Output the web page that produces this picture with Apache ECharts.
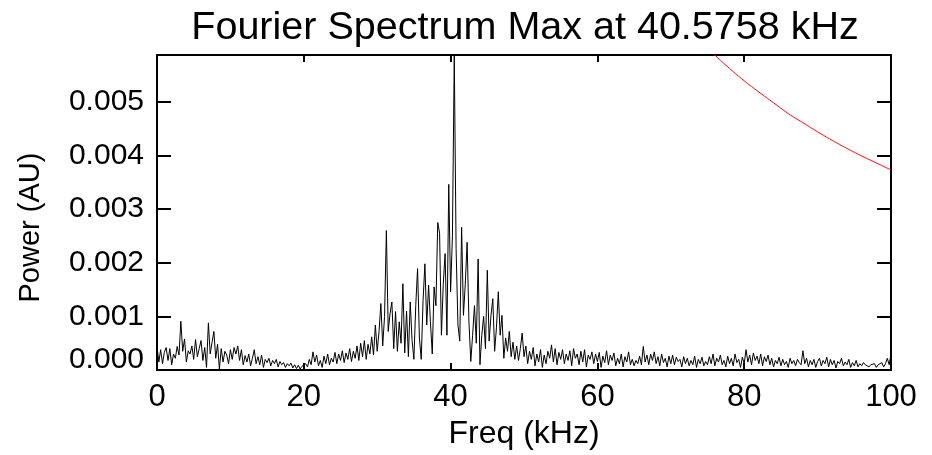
<!DOCTYPE html>
<html><head><meta charset="utf-8">
<script src="https://cdn.jsdelivr.net/npm/echarts@6/dist/echarts.min.js"></script>
<style>html,body{margin:0;padding:0;background:#fff}#c{width:932px;height:455px}</style>
</head><body><div id="c"></div><script>
// Frequency grid step (kHz) of the spectrum samples, 0..100 kHz
const freqStepKHz = 0.25;
// Power in units of 0.001 AU
const power0to25 = [0.45,0.15,0.38,0.12,0.33,0.42,0.18,0.40,0.10,0.30,0.22,0.44,0.28,0.91,0.35,0.58,0.15,0.36,0.30,0.45,0.20,
  0.57,0.25,0.40,0.55,0.18,0.42,0.05,0.88,0.30,0.52,0.72,0.22,0.48,0.02,0.40,0.15,0.35,0.28,0.12,0.38,
  0.20,0.42,0.30,0.45,0.18,0.38,0.10,0.27,0.15,0.30,0.08,0.22,0.38,0.12,0.25,0.10,0.28,0.05,0.20,0.14,
  0.22,0.08,0.18,0.12,0.20,0.06,0.16,0.10,0.14,0.05,0.12,0.08,0.13,0.04,0.10,0.03,0.09,0.02,0.07,0.04,
  0.12,0.06,0.20,0.10,0.34,0.15,0.28,0.08,0.18,0.05,0.26,0.12,0.30,0.10,0.22,0.15,0.33,0.12,0.30,0.18];
const power25to50 = [0.36,0.14,0.32,0.20,0.40,0.16,0.35,0.22,0.45,0.18,0.50,0.25,0.55,0.20,0.48,0.30,0.62,0.28,0.84,0.35,
  0.72,1.24,0.45,1.00,2.60,0.72,1.05,1.27,0.40,1.09,0.35,0.90,0.50,1.61,0.32,1.10,0.25,1.27,0.55,0.20,
  1.20,1.89,0.60,0.20,1.30,1.98,0.84,1.58,0.90,0.30,1.55,1.20,2.75,2.55,0.65,1.60,2.17,0.65,3.46,1.46,
  2.50,5.87,2.26,0.84,0.54,2.66,1.02,1.60,2.38,0.90,0.16,0.65,1.20,0.50,2.07,0.10,0.65,1.00,0.40,1.86,
  0.54,1.02,1.33,0.35,0.80,1.46,0.65,1.02,0.22,0.60,0.35,0.72,0.25,0.52,0.20,0.45,0.18,0.40,0.69,0.25];
const power50to75 = [0.45,0.12,0.35,0.20,0.42,0.08,0.30,0.15,0.38,0.05,0.28,0.12,0.35,0.22,0.47,0.15,0.40,0.10,0.33,0.20,
  0.38,0.12,0.30,0.18,0.36,0.08,0.40,0.22,0.30,0.10,0.35,0.15,0.38,0.06,0.28,0.20,0.34,0.12,0.30,0.16,
  0.33,0.05,0.26,0.14,0.36,0.10,0.28,0.18,0.32,0.08,0.22,0.12,0.30,0.06,0.25,0.15,0.34,0.10,0.20,0.08,
  0.18,0.12,0.26,0.10,0.44,0.15,0.28,0.10,0.30,0.18,0.34,0.12,0.25,0.08,0.30,0.14,0.22,0.06,0.26,0.12,
  0.28,0.10,0.24,0.16,0.20,0.06,0.25,0.12,0.22,0.08,0.18,0.10,0.26,0.05,0.20,0.12,0.24,0.08,0.16,0.10];
const power75to100 = [0.25,0.12,0.30,0.08,0.22,0.15,0.28,0.10,0.18,0.06,0.26,0.12,0.22,0.08,0.30,0.14,0.20,0.05,0.24,0.12,
  0.38,0.15,0.28,0.10,0.32,0.18,0.26,0.12,0.30,0.08,0.25,0.16,0.28,0.10,0.22,0.06,0.18,0.12,0.24,0.08,
  0.20,0.10,0.16,0.05,0.22,0.12,0.18,0.08,0.20,0.14,0.10,0.36,0.12,0.22,0.06,0.18,0.10,0.20,0.05,0.16,
  0.22,0.08,0.18,0.12,0.24,0.06,0.20,0.10,0.18,0.04,0.16,0.12,0.22,0.08,0.15,0.10,0.20,0.05,0.14,0.08,
  0.18,0.06,0.12,0.08,0.14,0.10,0.12,0.06,0.10,0.08,0.12,0.05,0.10,0.08,0.14,0.06,0.12,0.22,0.10,0.30];
// Red reference curve (kHz, 0.001 AU)
const redFreq  = [74, 76, 78, 80, 82, 84, 86, 88, 90, 92, 94, 96, 98, 100];
const redPower = [6.14, 5.87, 5.62, 5.39, 5.18, 4.98, 4.78, 4.61, 4.44, 4.28, 4.13, 3.99, 3.86, 3.73];
// Axis ticks
const xTickValues = [0, 20, 40, 60, 80, 100];
const yTickLabels = ['0.000', '0.001', '0.002', '0.003', '0.004', '0.005'];
const yMaxMilli = 5.87;

const powerAll = power0to25.concat(power25to50, power50to75, power75to100);
const spectrum = powerAll.map((v, i) => [i * freqStepKHz, v]);
const redCurve = redFreq.map((f, i) => [f, redPower[i]]);

const FONT = "'Liberation Sans', Arial, Helvetica, sans-serif";
const axisLineStyle = { color: '#000', width: 2 };
const chart = echarts.init(document.getElementById('c'), null, { renderer: 'canvas' });
chart.setOption({
  animation: false,
  backgroundColor: '#fff',
  title: {
    text: 'Fourier Spectrum Max at 40.5758 kHz',
    left: 520, top: 3, textAlign: 'center',
    textStyle: { fontSize: 39.5, fontWeight: 'normal', color: '#000', fontFamily: FONT }
  },
  grid: { left: 157, right: 41, top: 55, bottom: 83, containLabel: false },
  xAxis: [{
    type: 'value', position: 'bottom', min: 0, max: 100, interval: 20,
    axisLine: { show: true, onZero: false, lineStyle: axisLineStyle },
    axisTick: { show: true, inside: true, length: 7, lineStyle: { color: '#000', width: 2 } },
    axisLabel: { color: '#000', fontSize: 31, fontFamily: FONT, margin: 12,
      formatter: v => (xTickValues.indexOf(v) >= 0 ? String(v) : '') },
    splitLine: { show: false },
    name: 'Freq (kHz)', nameLocation: 'middle', nameGap: 40,
    nameTextStyle: { color: '#000', fontSize: 32, fontFamily: FONT }
  }, {
    type: 'value', position: 'top', min: 0, max: 100, interval: 20,
    axisLine: { show: true, onZero: false, lineStyle: axisLineStyle },
    axisTick: { show: true, inside: true, length: 7, lineStyle: { color: '#000', width: 2 } },
    axisLabel: { show: false }, splitLine: { show: false }
  }],
  yAxis: [{
    type: 'value', position: 'left', min: 0, max: yMaxMilli, interval: 1,
    axisLine: { show: true, onZero: false, lineStyle: axisLineStyle },
    axisTick: { show: true, inside: true, length: 14, lineStyle: { color: '#000', width: 2 } },
    axisLabel: {
      color: '#000', fontSize: 30, fontFamily: FONT, margin: 13, showMaxLabel: false,
      formatter: v => {
        const k = Math.round(v);
        if (Math.abs(v - k) > 1e-9 || k >= yTickLabels.length) return '';
        return k === 0 ? '{z|' + yTickLabels[0] + '}' : yTickLabels[k];
      },
      rich: { z: { fontSize: 30, color: '#000', fontFamily: FONT, padding: [0, 0, 20, 0] } }
    },
    splitLine: { show: false },
    name: 'Power (AU)', nameLocation: 'middle', nameGap: 112, nameRotate: 90,
    nameTextStyle: { color: '#000', fontSize: 29, fontFamily: FONT, padding: [0, 30, 0, 0] }
  }, {
    type: 'value', position: 'right', min: 0, max: yMaxMilli, interval: 1,
    axisLine: { show: true, onZero: false, lineStyle: axisLineStyle },
    axisTick: { show: true, inside: true, length: 14, lineStyle: { color: '#000', width: 2 } },
    axisLabel: { show: false }, splitLine: { show: false }
  }],
  series: [{
    type: 'line', xAxisIndex: 0, yAxisIndex: 0, data: spectrum,
    showSymbol: false, symbol: 'none', clip: true,
    lineStyle: { color: '#000', width: 1 }
  }, {
    type: 'line', xAxisIndex: 0, yAxisIndex: 0, data: redCurve,
    showSymbol: false, symbol: 'none', clip: true, smooth: true,
    lineStyle: { color: '#ff0000', width: 1 }
  }]
});
</script></body></html>
